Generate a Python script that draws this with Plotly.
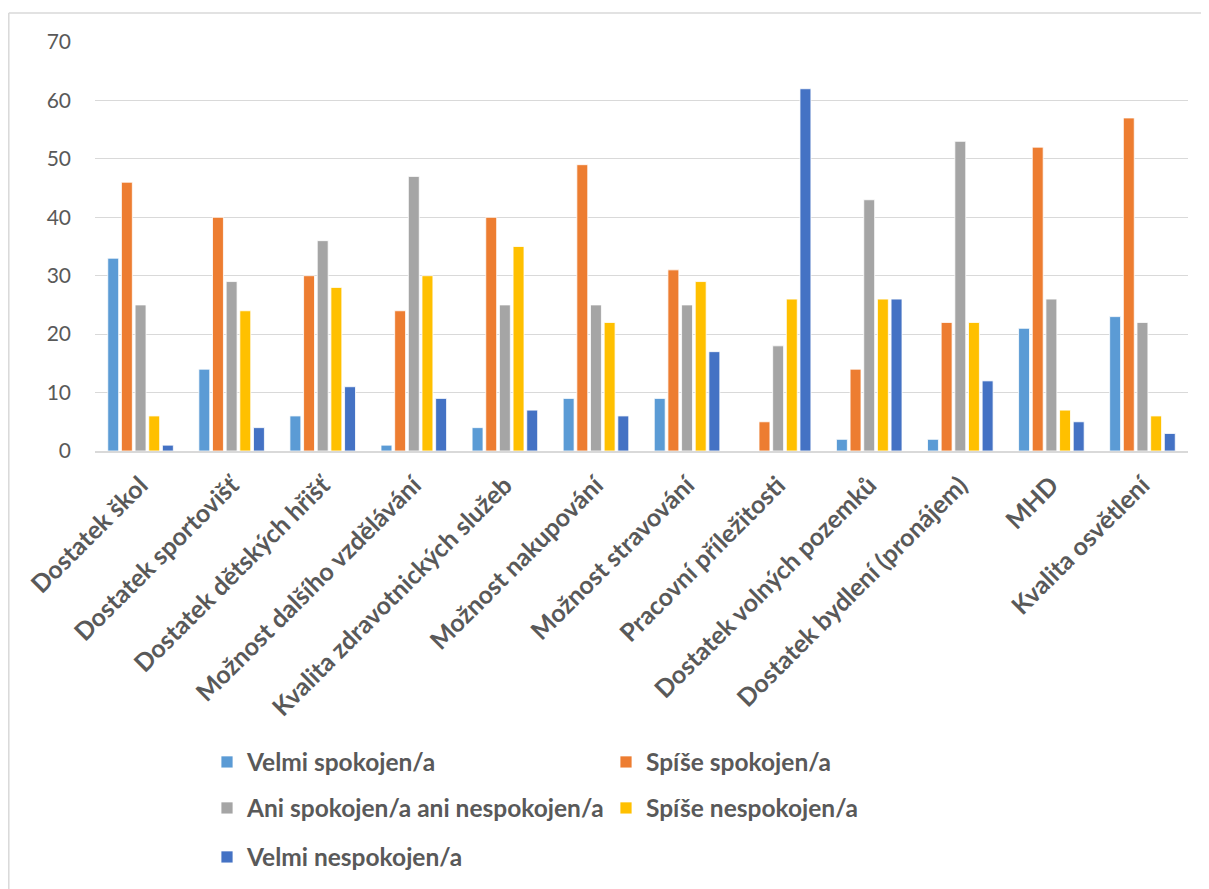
import plotly.graph_objects as go

categories = ["Dostatek škol", "Dostatek sportovišť", "Dostatek dětských hřišť",
              "Možnost dalšího vzdělávání", "Kvalita zdravotnických služeb",
              "Možnost nakupování", "Možnost stravování", "Pracovní příležitosti",
              "Dostatek volných pozemků", "Dostatek bydlení (pronájem)", "MHD",
              "Kvalita osvětlení"]

series_names = ["Velmi spokojen/a", "Spíše spokojen/a",
                "Ani spokojen/a ani nespokojen/a", "Spíše nespokojen/a",
                "Velmi nespokojen/a"]

velmi_spokojen = [33, 14, 6, 1, 4, 9, 9, 0, 2, 2, 21, 23]
spise_spokojen = [46, 40, 30, 24, 40, 49, 31, 5, 14, 22, 52, 57]
ani_ani = [25, 29, 36, 47, 25, 25, 25, 18, 43, 53, 26, 22]
spise_nespokojen = [6, 24, 28, 30, 35, 22, 29, 26, 26, 22, 7, 6]
velmi_nespokojen = [1, 4, 11, 9, 7, 6, 17, 62, 26, 12, 5, 3]

colors = ["#5B9BD5", "#ED7D31", "#A5A5A5", "#FFC000", "#4472C4"]
values = [velmi_spokojen, spise_spokojen, ani_ani, spise_nespokojen, velmi_nespokojen]
legend_ids = ["legend", "legend", "legend2", "legend2", "legend3"]

OFF = 8  # page body margin
W, H = 1209 - OFF, 889 - OFF
L, R = 95 - OFF, W - (1188 - OFF)
T, B = 42 - OFF, H - (451 - OFF)
pw, ph = W - L - R, H - T - B

def px_x(p):
    return (p - OFF - L) / pw

def px_y(p):
    return (H - B - (p - OFF)) / ph

fig = go.Figure()
for name, vals, col, lg in zip(series_names, values, colors, legend_ids):
    fig.add_trace(go.Bar(x=categories, y=vals, name=name, legend=lg,
                         marker=dict(color=col, line=dict(color="white", width=0.8))))

legend_font = dict(size=24.5, family="Lato", color="#595959", weight="bold")
common = dict(orientation="h", xanchor="left", yanchor="middle",
              entrywidth=354, entrywidthmode="pixels", traceorder="normal",
              font=legend_font, itemwidth=30, bgcolor="rgba(0,0,0,0)")

frame = dict(color="#D9D9D9", width=1.5)
fig.update_layout(
    width=W, height=H,
    margin=dict(l=L, r=R, t=T, b=B, autoexpand=False),
    paper_bgcolor="white", plot_bgcolor="white",
    barmode="group", bargap=0.25, bargroupgap=0.2,
    font=dict(family="Lato, Open Sans, sans-serif", color="#595959"),
    xaxis=dict(tickangle=-45, tickfont=dict(size=25, family="Lato", color="#595959", weight="bold"),
               showline=True, linecolor="#D9D9D9", linewidth=1.5, ticks="",
               showgrid=False, automargin=False, ticklabelstandoff=8, ticklabelshift=0),
    yaxis=dict(range=[0, 70], dtick=10, tickfont=dict(size=21, color="#595959"),
               showgrid=True, gridcolor="#D9D9D9", gridwidth=1.2, zeroline=False,
               ticks="", ticklabelstandoff=23, automargin=False),
    legend=dict(x=px_x(207), y=px_y(762), **common),
    legend2=dict(x=px_x(207), y=px_y(808), **common),
    legend3=dict(x=px_x(207), y=px_y(857), **common),
    shapes=[dict(type="line", xref="paper", yref="paper",
                 x0=px_x(8.8), x1=px_x(1240), y0=px_y(13), y1=px_y(13), line=frame,
                 layer="below"),
            dict(type="line", xref="paper", yref="paper",
                 x0=px_x(8.8), x1=px_x(8.8), y0=px_y(13), y1=px_y(900), line=frame,
                 layer="below")],
)

fig.write_html("out.html")
